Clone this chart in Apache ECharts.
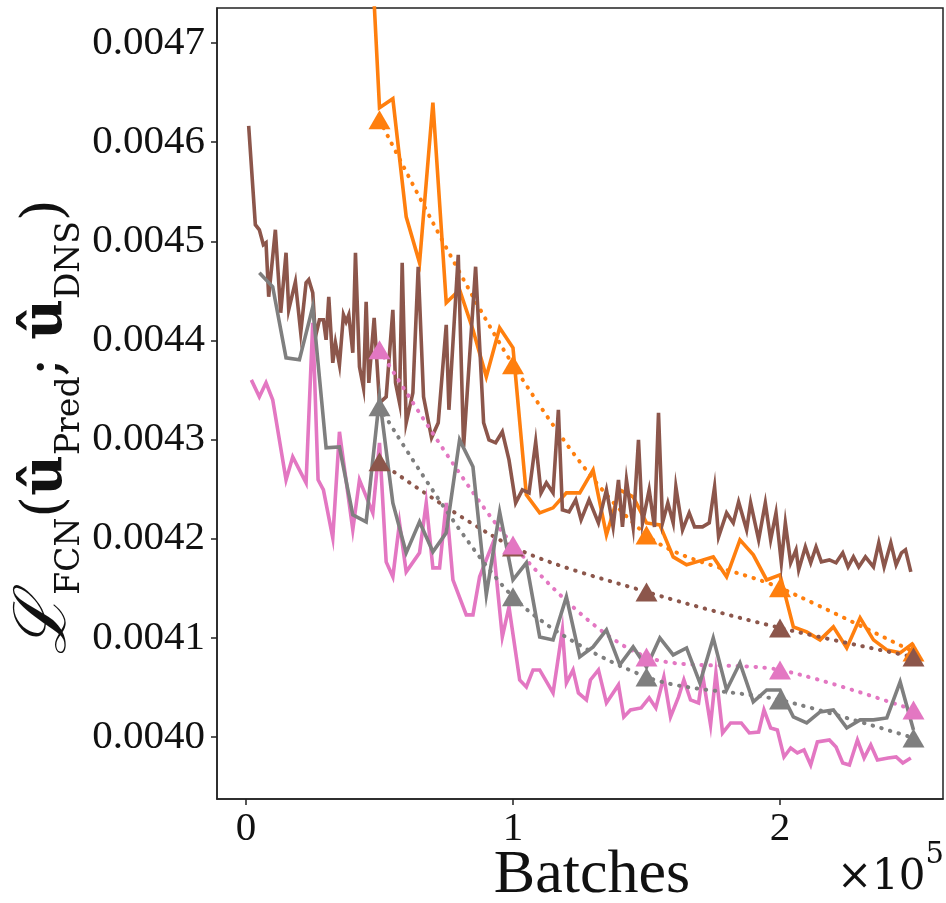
<!DOCTYPE html>
<html>
<head>
<meta charset="utf-8">
<script src="https://cdn.jsdelivr.net/npm/echarts@6/dist/echarts.min.js"></script>
<style>
html,body{margin:0;padding:0;background:#fff;}
#chart{width:946px;height:903px;}
</style>
</head>
<body>
<div id="chart"></div>
<script>
// ---------------- DATA ----------------
const xTicks = [0, 100000, 200000];
const yTicks = [0.0040, 0.0041, 0.0042, 0.0043, 0.0044, 0.0045, 0.0046, 0.0047];

// Orange training curve
const orangeBatches = [45000,50000,55000,60000,65000,70000,75000,80000,85000,90000,95000,100000,105000,110000,115000,120000,125000,130000,135000,140000,145000,150000,155000,160000,165000,170000,175000,180000,185000,190000,195000,200000,205000,210000,215000,220000,225000,230000,235000,240000,245000,250000];
const orangeLoss = [0.0049000,0.0046347,0.0046438,0.0045247,0.0044783,0.0046398,0.0044379,0.0044511,0.0044107,0.0043633,0.0044127,0.0043925,0.0042442,0.0042260,0.0042311,0.0042462,0.0042462,0.0042694,0.0042038,0.0042492,0.0042422,0.0042159,0.0042139,0.0041816,0.0041736,0.0041776,0.0041816,0.0041615,0.0041988,0.0041837,0.0041584,0.0041635,0.0041110,0.0041060,0.0040979,0.0041110,0.0040898,0.0041201,0.0040979,0.0040878,0.0040848,0.0040949];

// Brown training curve
const brownBatches = [1000,3500,5000,6500,7500,8500,10000,11000,13000,15000,16000,18500,20500,22500,23500,25000,26000,27500,29000,30000,31000,32500,33500,35000,36500,37500,38500,40000,41000,42500,44000,45000,46000,48000,50000,52500,55000,56000,57500,58500,60000,62500,64500,66500,69500,72000,75000,76000,79500,81500,86000,89000,91000,93500,96000,98500,101000,103500,106000,108500,110500,112500,115000,117000,118500,121000,123500,125500,128500,132000,135000,137500,139500,141000,142500,145000,147000,148500,151000,153000,154500,156000,158000,160000,161000,163500,166000,168000,171000,173500,175500,177000,180000,182500,184500,187500,189000,192000,194500,196500,198500,200500,202000,204000,206000,207000,209500,211500,213500,215500,218500,221000,223500,225500,227500,229500,232000,235000,237000,239000,241500,243500,245500,247000,249000];
const brownLoss = [0.0046165,0.0045167,0.0045116,0.0044965,0.0044985,0.0044440,0.0044844,0.0045116,0.0044279,0.0044884,
0.0044309,0.0044591,0.0044077,0.0044581,0.0044612,0.0044480,0.0044036,0.0044208,0.0044208,0.0044006,
0.0044440,0.0043774,0.0043976,0.0043754,0.0044258,0.0044188,0.0044258,0.0043875,0.0044884,0.0043734,
0.0043522,0.0044390,0.0043572,0.0044228,0.0043370,0.0043431,0.0044309,0.0043572,0.0043370,0.0044783,
0.0043169,0.0043471,0.0044743,0.0043431,0.0043017,0.0043169,0.0044157,0.0043300,0.0044864,0.0042926,
0.0044743,0.0043169,0.0042997,0.0042967,0.0043078,0.0042795,0.0042361,0.0042492,0.0042462,0.0042977,
0.0042462,0.0042563,0.0042462,0.0043300,0.0042291,0.0042270,0.0042392,0.0042190,0.0042392,0.0042159,
0.0042492,0.0042119,0.0042593,0.0042119,0.0042593,0.0042119,0.0042997,0.0042159,0.0042492,0.0042119,
0.0043269,0.0042159,0.0042361,0.0042159,0.0042523,0.0042089,0.0042260,0.0042119,0.0042119,0.0042159,
0.0042523,0.0042018,0.0042260,0.0042159,0.0042371,0.0042089,0.0042361,0.0041988,0.0042361,0.0041988,
0.0042260,0.0041756,0.0042159,0.0041756,0.0041887,0.0041685,0.0041917,0.0041756,0.0041917,0.0041766,
0.0041786,0.0041756,0.0041857,0.0041715,0.0041816,0.0041715,0.0041816,0.0041715,0.0041958,0.0041715,
0.0041958,0.0041736,0.0041857,0.0041887,0.0041665];

// Pink training curve
const pinkBatches = [2000,5000,7500,10000,15000,17500,22500,25000,27000,29000,32500,35000,40000,42500,47500,50000,52500,55000,57500,60000,65000,67500,70000,72500,75000,77500,82500,85000,87500,92500,96000,98500,102500,105000,107500,110000,115000,118500,120000,122500,124500,127500,129000,132000,135000,139500,141500,144000,148000,151000,153500,156500,159000,162000,164000,166500,169500,171000,174000,176000,178500,181500,185500,188500,192000,194000,196500,199000,201500,204000,206500,209000,211500,214000,218500,221000,223500,226000,229000,231500,234000,236500,240500,243500,246000,249000];
const pinkLoss = [0.0043602,0.0043431,0.0043572,0.0043401,0.0042593,0.0042825,0.0042563,0.0044178,0.0042593,0.0042492,
0.0042008,0.0043078,0.0042089,0.0042593,0.0042260,0.0042967,0.0041766,0.0041615,0.0042159,0.0041665,
0.0041857,0.0042361,0.0041705,0.0041705,0.0042361,0.0041584,0.0041231,0.0041231,0.0041615,0.0041958,
0.0041009,0.0041312,0.0040575,0.0040505,0.0040676,0.0040676,0.0040444,0.0041080,0.0040545,0.0040676,
0.0040444,0.0040373,0.0040575,0.0040676,0.0040343,0.0040525,0.0040202,0.0040272,0.0040293,0.0040394,
0.0040293,0.0040605,0.0040202,0.0040404,0.0040575,0.0040373,0.0040343,0.0040626,0.0040121,0.0040646,
0.0040040,0.0040141,0.0040141,0.0040040,0.0040050,0.0040272,0.0040091,0.0040071,0.0039798,0.0039889,
0.0039839,0.0039869,0.0039717,0.0039950,0.0039970,0.0039899,0.0039738,0.0039717,0.0039970,0.0039788,
0.0039919,0.0039768,0.0039788,0.0039798,0.0039738,0.0039788];

// Gray training curve
const grayBatches = [5000,10000,15000,20000,25000,30000,35000,40000,45000,50000,55000,60000,65000,70000,75000,80000,85000,90000,95000,100000,105000,110000,115000,120000,125000,130000,135000,140000,145000,150000,155000,160000,165000,170000,175000,180000,185000,190000,195000,200000,205000,210000,215000,220000,225000,230000,235000,240000,245000,250000];
const grayLoss = [0.0044682,0.0044541,0.0043824,0.0043804,0.0044339,0.0042916,0.0042926,0.0042240,0.0042170,0.0043421,
0.0042361,0.0041857,0.0042170,0.0041867,0.0042059,0.0042997,0.0042725,0.0041433,0.0042270,0.0041584,
0.0041756,0.0041009,0.0040979,0.0041413,0.0040807,0.0040908,0.0041080,0.0040727,0.0040908,0.0040706,
0.0040999,0.0040827,0.0040898,0.0040545,0.0040999,0.0040474,0.0040747,0.0040353,0.0040474,0.0040474,
0.0040202,0.0040141,0.0040252,0.0040272,0.0040091,0.0040172,0.0040172,0.0040192,0.0040555,0.0040071];

// Validation points (triangles, dotted)
const valBatches = [50000, 100000, 150000, 200000, 250000];
const orangeVal = [0.0046226, 0.0043754, 0.0042038, 0.0041504, 0.0040858];
const brownVal  = [0.0042775, 0.0041917, 0.0041463, 0.0041100, 0.0040807];
const pinkVal   = [0.0043905, 0.0041937, 0.0040807, 0.0040676, 0.0040272];
const grayVal   = [0.0043330, 0.0041413, 0.0040605, 0.0040373, 0.0039990];

// ---------------- CHART ----------------
const COLORS = { orange:'#ff7f0e', brown:'#8c564b', pink:'#e377c2', gray:'#7f7f7f' };
const zip = (xs, ys) => xs.map((x, i) => [x, ys[i]]);
const SERIF = "'Liberation Serif', 'DejaVu Serif', serif";
const DSERIF = "'DejaVu Serif', serif";

function solid(name, xs, ys, color) {
  return { name, type:'line', data: zip(xs, ys), showSymbol:false, symbol:'none',
    lineStyle:{ color, width:3.6, join:'miter' }, itemStyle:{ color }, animation:false, clip:true };
}
function dotted(name, xs, ys, color) {
  return { name, type:'line', data: zip(xs, ys), smooth:0.3, symbol:'triangle', symbolSize:[22,19], showSymbol:true,
    lineStyle:{ color, width:4, type:[0.5, 8.5], cap:'round' }, itemStyle:{ color }, animation:false, clip:true };
}

const chart = echarts.init(document.getElementById('chart'), null, { renderer:'canvas' });
chart.setOption({
  backgroundColor:'#ffffff',
  animation:false,
  grid:{ left:217, top:8, right:3, bottom:104, show:true, borderColor:'#222', borderWidth:1.5, backgroundColor:'transparent' },
  xAxis:{
    type:'value', min:-10860, max:261050,
    axisLine:{ show:true, onZero:false, lineStyle:{ color:'#222', width:1.5 } },
    axisTick:{ show:true, inside:false, length:6, customValues: xTicks, lineStyle:{ color:'#222', width:1.5 } },
    axisLabel:{ show:true, customValues: xTicks, margin:10, fontFamily:SERIF, fontSize:41, color:'#111',
      formatter: v => String(Math.round(v / 100000)) },
    splitLine:{ show:false }
  },
  yAxis:{
    type:'value', min:0.0039374, max:0.0047353,
    axisLine:{ show:true, onZero:false, lineStyle:{ color:'#222', width:1.5 } },
    axisTick:{ show:true, inside:false, length:6, customValues: yTicks, lineStyle:{ color:'#222', width:1.5 } },
    axisLabel:{ show:true, customValues: yTicks, margin:12, fontFamily:SERIF, fontSize:41, color:'#111',
      formatter: v => v.toFixed(4) },
    splitLine:{ show:false }
  },
  series:[
    solid('orange', orangeBatches, orangeLoss, COLORS.orange),
    dotted('orange val', valBatches, orangeVal, COLORS.orange),
    solid('brown', brownBatches, brownLoss, COLORS.brown),
    dotted('brown val', valBatches, brownVal, COLORS.brown),
    solid('pink', pinkBatches, pinkLoss, COLORS.pink),
    dotted('pink val', valBatches, pinkVal, COLORS.pink),
    solid('gray', grayBatches, grayLoss, COLORS.gray),
    dotted('gray val', valBatches, grayVal, COLORS.gray)
  ],
  graphic:[
    { type:'text', x:592, y:876,
      style:{ text:'Batches', font:"62px 'Liberation Serif', serif", fill:'#111', align:'center', verticalAlign:'middle' } },
    { type:'text', x:944, y:870,
      style:{ text:'{m|×10}{s|5}', fill:'#111', align:'right', verticalAlign:'middle',
        rich:{ m:{ fontFamily:DSERIF, fontSize:42, lineHeight:58, verticalAlign:'bottom' },
               s:{ fontFamily:DSERIF, fontSize:29, lineHeight:58, verticalAlign:'top' } } } },
    { type:'text', x:46, y:427, rotation:Math.PI/2,
      style:{ text:'{L|ℒ}{s|FCN}{p|(}{u|û}{s|Pred}{p|; }{u|û}{s|DNS}{p|)}', fill:'#111', align:'center', verticalAlign:'middle',
        rich:{
          L:{ fontFamily:DSERIF, fontSize:72, fontStyle:'italic', lineHeight:72, verticalAlign:'middle' },
          p:{ fontFamily:DSERIF, fontSize:56, lineHeight:60, verticalAlign:'middle' },
          u:{ fontFamily:DSERIF, fontSize:56, fontWeight:'bold', lineHeight:60, verticalAlign:'middle' },
          s:{ fontFamily:DSERIF, fontSize:33, lineHeight:82, verticalAlign:'bottom' }
        } } }
  ]
});
</script>
</body>
</html>
